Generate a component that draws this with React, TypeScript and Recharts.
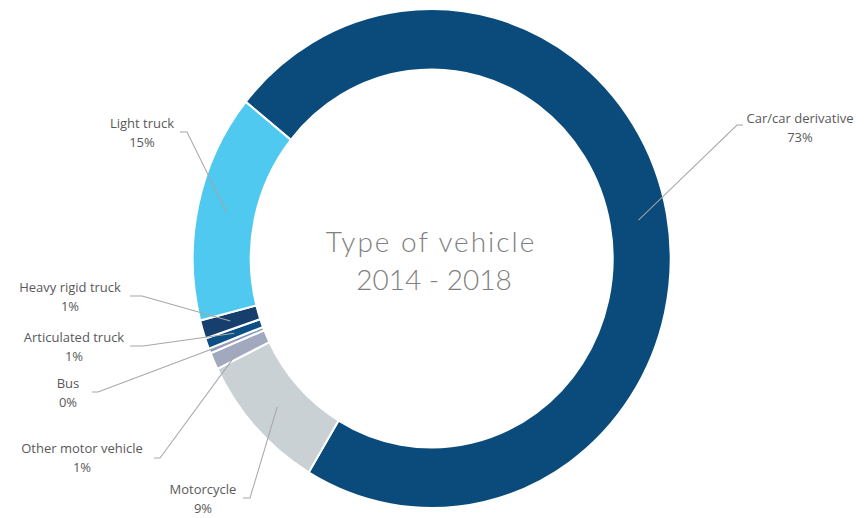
import { Pie, PieChart, Cell } from 'recharts';

const categories = [
  'Car/car derivative',
  'Motorcycle',
  'Other motor vehicle',
  'Bus',
  'Articulated truck',
  'Heavy rigid truck',
  'Light truck',
];
const shares = [72.8, 9.1, 1.1, 0.3, 0.7, 1.2, 14.8];
const colors = ['#0a4b7b', '#c9d1d4', '#a2a8bd', '#8497c7', '#0b4f85', '#173f6e', '#4fc9f0'];

const title = ['Type of vehicle', '2014 - 2018'];

// the original donut is a touch taller than it is wide
const CX = 431.7;
const CY = 258.5;
const S = 1.044;
const toChartY = (y: number) => CY + (y - CY) / S;

// text centre (first line), elbow of the leader, end of its short horizontal tail
const LABEL_LAYOUT = [
  { tx: 800, ty: 118, ex: 737, ey: 125, hx: 743 },
  { tx: 203, ty: 489, ex: 250, ey: 498, hx: 243 },
  { tx: 82, ty: 448, ex: 160, ey: 458, hx: 154 },
  { tx: 68, ty: 383, ex: 98, ey: 392, hx: 92 },
  { tx: 74, ty: 337, ex: 143, ey: 346, hx: 130 },
  { tx: 70, ty: 287, ex: 142, ey: 296, hx: 130 },
  { tx: 142, ty: 123, ex: 187, ey: 132, hx: 180 },
];

const data = categories.map((name, i) => ({ name, value: shares[i] }));

const RAD = Math.PI / 180;

function renderLabel(props: any) {
  const { cx, cy, midAngle, innerRadius, outerRadius, percent, index, name } = props;
  const lay = LABEL_LAYOUT[index];
  const r = (innerRadius + outerRadius) / 2;
  const sx = cx + r * Math.cos(-midAngle * RAD);
  const sy = cy + r * Math.sin(-midAngle * RAD);
  const ey = toChartY(lay.ey);
  const ty = toChartY(lay.ty);
  return (
    <g key={`lbl-${index}`}>
      <polyline
        points={`${sx},${sy} ${lay.ex},${ey} ${lay.hx},${ey}`}
        fill="none"
        stroke="#a6a6a6"
        strokeWidth={1}
      />
      <g transform={`translate(${lay.tx} ${ty}) scale(1 ${1 / S})`}>
        <text
          x={0}
          y={0}
          textAnchor="middle"
          dominantBaseline="central"
          fill="#595959"
          fontSize={13}
          fontFamily="'Open Sans', sans-serif"
        >
          {name}
        </text>
        <text
          x={0}
          y={19}
          textAnchor="middle"
          dominantBaseline="central"
          fill="#595959"
          fontSize={13}
          fontFamily="'Open Sans', sans-serif"
        >
          {`${Math.round(percent * 100)}%`}
        </text>
      </g>
    </g>
  );
}

export default function App() {
  return (
    <div style={{ position: 'absolute', left: 0, top: 0, width: 865, height: 518, background: '#fff' }}>
      <div
        style={{
          position: 'absolute',
          left: 0,
          top: 0,
          transform: `scaleY(${S})`,
          transformOrigin: `${CX}px ${CY}px`,
        }}
      >
        <PieChart width={865} height={518} margin={{ top: 0, right: 0, bottom: 0, left: 0 }}>
          <Pie
            data={data}
            dataKey="value"
            nameKey="name"
            cx={CX}
            cy={CY}
            innerRadius={181}
            outerRadius={239}
            startAngle={141.1}
            endAngle={-218.9}
            stroke="#fff"
            strokeWidth={2}
            label={renderLabel}
            labelLine={false}
            isAnimationActive={false}
          >
            {data.map((d, i) => (
              <Cell key={d.name} fill={colors[i]} />
            ))}
          </Pie>
        </PieChart>
      </div>
      <svg width={865} height={518} style={{ position: 'absolute', left: 0, top: 0, pointerEvents: 'none' }}>
        <text
          x={431}
          y={252}
          textAnchor="middle"
          fill="#7f7f7f"
          fontSize={28}
          fontWeight={300}
          fontFamily="Lato, sans-serif"
          letterSpacing={2}
        >
          {title[0]}
        </text>
        <text
          x={434}
          y={290}
          textAnchor="middle"
          fill="#7f7f7f"
          fontSize={28}
          fontWeight={300}
          fontFamily="Lato, sans-serif"
          letterSpacing={0}
        >
          {title[1]}
        </text>
      </svg>
    </div>
  );
}
